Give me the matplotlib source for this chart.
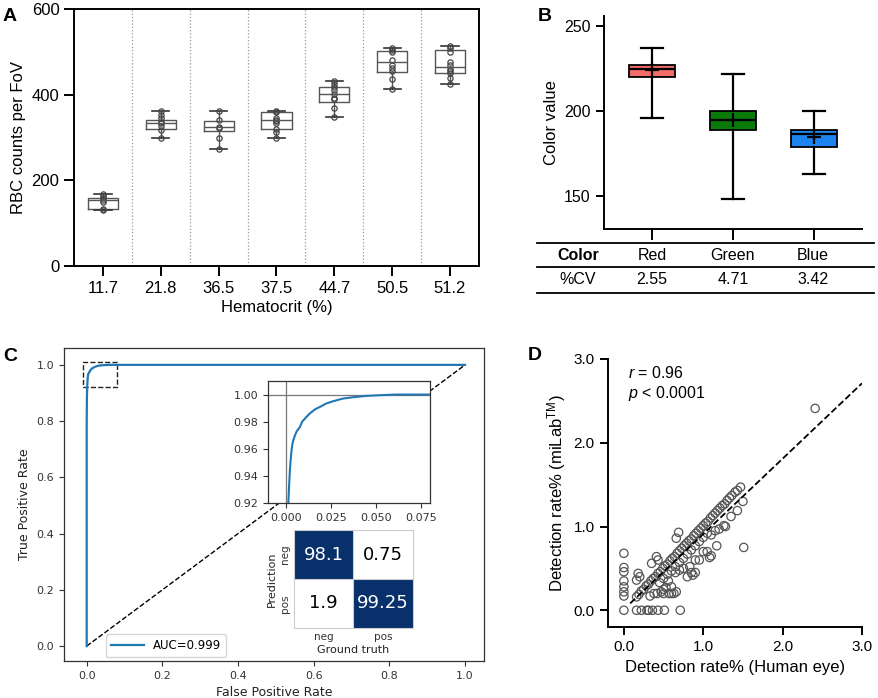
import numpy as np
import matplotlib
matplotlib.use('Agg')
import matplotlib.pyplot as plt
from matplotlib.lines import Line2D
from matplotlib.patches import Rectangle
from matplotlib.colors import ListedColormap

plt.rcParams['font.family'] = ['Liberation Sans', 'DejaVu Sans']
plt.rcParams['mathtext.fontset'] = 'custom'
plt.rcParams['mathtext.rm'] = 'Liberation Sans'
plt.rcParams['mathtext.it'] = 'Liberation Sans:italic'

W, H = 879, 698

# ---- panel A data (RBC counts per FoV) ----
hct_labels = ['11.7', '21.8', '36.5', '37.5', '44.7', '50.5', '51.2']
a_lo = [130, 298, 272, 300, 348, 413, 425]
a_q1 = [134, 319, 315, 319, 384, 452, 450]
a_med = [155, 335, 325, 341, 401, 476, 465]
a_q3 = [159, 342, 339, 360, 419, 502, 505]
a_hi = [168, 362, 362, 361, 432, 508, 514]
a_points = [
    [130, 134, 150, 155, 158, 163, 168],
    [298, 318, 328, 335, 337, 345, 352, 362],
    [272, 300, 323, 325, 342, 362],
    [300, 312, 320, 335, 338, 342, 345, 360, 361],
    [348, 368, 390, 392, 402, 410, 418, 426, 432],
    [413, 437, 456, 463, 470, 482, 500, 505, 508],
    [425, 440, 450, 455, 460, 470, 476, 500, 508, 514],
]

# ---- panel B data (color value) ----
b_names = ['Red', 'Green', 'Blue']
b_lo = [196, 148, 163]
b_q1 = [220, 189, 179]
b_med = [225, 195, 186.5]
b_q3 = [227, 200, 189]
b_hi = [237, 222, 200]
b_mean = [224, 195, 185]
b_cv = ['2.55', '4.71', '3.42']
b_colors = ['#F26B6B', '#0B7A0B', '#1C84EE']

# ---- panel C data (ROC) ----
fpr = [0, 0, 0.0005, 0.0013, 0.0018, 0.0022, 0.0026, 0.003, 0.0035, 0.004,
       0.005, 0.006, 0.0077, 0.009, 0.011, 0.0132, 0.016, 0.019, 0.0224,
       0.026, 0.0315, 0.037, 0.0445, 0.052, 0.061, 1.0]
tpr = [0, 0.80, 0.88, 0.92, 0.935, 0.945, 0.952, 0.958, 0.963, 0.966,
       0.970, 0.973, 0.976, 0.980, 0.983, 0.986, 0.989, 0.991, 0.9934,
       0.995, 0.997, 0.998, 0.999, 0.9995, 1.0, 1.0]
conf = np.array([[98.1, 0.75], [1.9, 99.25]])
conf_text = [['98.1', '0.75'], ['1.9', '99.25']]

# ---- panel D data (detection rate) ----
d_x = [0, 0, 0, 0, 0, 0, 0, 0,
       0.16, 0.22, 0.29, 0.31, 0.36, 0.43, 0.51, 0.71,
       0.16, 0.19, 0.22, 0.25, 0.28, 0.31, 0.34, 0.37, 0.40, 0.43, 0.46, 0.49,
       0.52, 0.55, 0.58, 0.61, 0.64, 0.67, 0.70, 0.73, 0.76, 0.79, 0.82, 0.85,
       0.88, 0.91, 0.94, 0.97, 1.00, 1.03, 1.06, 1.09, 1.12, 1.15, 1.18, 1.21,
       1.24, 1.27, 1.30, 1.33, 1.36, 1.40, 1.43, 1.47,
       0.66, 0.69, 0.41, 0.43, 0.35, 0.18, 0.20, 0.16,
       0.45, 0.50, 0.55, 0.60, 0.65, 0.70, 0.75, 0.80, 0.85, 0.90, 0.95,
       1.00, 1.05, 1.10, 1.15, 1.20, 1.28, 1.35, 1.43, 1.50,
       0.33, 0.38, 0.42, 0.47, 0.50, 0.53, 0.57, 0.60, 0.63, 0.66, 0.50, 0.56,
       0.60, 0.65, 0.70, 0.75, 0.80, 0.85, 0.87, 0.90, 0.83, 0.90, 0.95, 1.00,
       1.05, 1.10, 1.08, 1.17, 1.26, 1.51, 2.41]
d_y = [0.68, 0.51, 0.46, 0.35, 0.28, 0.22, 0.17, 0.0,
       0.0, 0.0, 0.0, 0.0, 0.0, 0.0, 0.0, 0.0,
       0.16, 0.19, 0.23, 0.25, 0.29, 0.31, 0.35, 0.38, 0.40, 0.44, 0.46, 0.50,
       0.53, 0.55, 0.59, 0.62, 0.64, 0.68, 0.71, 0.74, 0.77, 0.80, 0.83, 0.85,
       0.89, 0.92, 0.95, 0.98, 1.01, 1.04, 1.06, 1.10, 1.13, 1.16, 1.19, 1.22,
       1.25, 1.27, 1.31, 1.34, 1.37, 1.41, 1.43, 1.47,
       0.86, 0.93, 0.64, 0.60, 0.56, 0.44, 0.40, 0.36,
       0.33, 0.38, 0.43, 0.47, 0.52, 0.57, 0.62, 0.67, 0.72, 0.77, 0.82,
       0.87, 0.92, 0.90, 0.95, 0.97, 1.00, 1.12, 1.19, 1.30,
       0.17, 0.20, 0.20, 0.22, 0.20, 0.27, 0.20, 0.20, 0.20, 0.22, 0.25, 0.35,
       0.28, 0.45, 0.48, 0.50, 0.40, 0.45, 0.42, 0.45, 0.52, 0.60, 0.60, 0.70,
       0.70, 0.65, 0.63, 0.77, 1.01, 0.75, 2.41]
fit_slope, fit_intercept = 0.9, 0.01
fit_range = [0.08, 3.0]


def fx(px):
    return px / W


def fy(py):
    return 1 - py / H


def pos(l, t, r, b):
    return [fx(l), fy(b), (r - l) / W, (b - t) / H]


fig = plt.figure(figsize=(W / 100, H / 100), dpi=100)

# ================= A =================
axA = fig.add_axes(pos(74, 9, 479, 266))
xa = np.arange(1, len(hct_labels) + 1)
statsA = [dict(whislo=a_lo[i], q1=a_q1[i], med=a_med[i], q3=a_q3[i], whishi=a_hi[i])
          for i in range(len(xa))]
axA.bxp(statsA, positions=xa, widths=0.52, showfliers=False, capwidths=0.3,
        boxprops=dict(color='#555555', lw=1.0),
        medianprops=dict(color='#555555', lw=1.0),
        whiskerprops=dict(color='#555555', lw=1.0),
        capprops=dict(color='#333333', lw=1.2))
for i, pts in enumerate(a_points):
    axA.plot([xa[i]] * len(pts), pts, 'o', ms=3.8, mfc='none', mec='#444444', mew=0.9)
for s in np.arange(1.5, len(xa), 1.0):
    axA.axvline(s, color='#999999', ls=':', lw=0.9)
axA.set_xlim(0.5, 7.5)
axA.set_ylim(0, 600)
axA.set_yticks([0, 200, 400, 600])
axA.set_xticks(xa)
axA.set_xticklabels(hct_labels)
axA.tick_params(labelsize=12, width=1.4, length=7, direction='out')
for sp in axA.spines.values():
    sp.set_linewidth(1.4)
axA.set_ylabel('RBC counts per FoV', fontsize=12)
axA.set_xlabel('Hematocrit (%)', fontsize=12, labelpad=3)

# ================= B =================
axB = fig.add_axes(pos(604, 16, 862, 229))
xb = np.arange(1, 4)
statsB = [dict(whislo=b_lo[i], q1=b_q1[i], med=b_med[i], q3=b_q3[i], whishi=b_hi[i],
               mean=b_mean[i]) for i in range(3)]
bp = axB.bxp(statsB, positions=xb, widths=0.57, showfliers=False, showmeans=True,
             patch_artist=True, capwidths=0.27,
             boxprops=dict(edgecolor='black', lw=1.3),
             medianprops=dict(color='black', lw=1.6),
             whiskerprops=dict(color='black', lw=1.6),
             capprops=dict(color='black', lw=1.6),
             meanprops=dict(marker='+', markersize=10, markeredgecolor='black',
                            markeredgewidth=1.6))
for patch, c in zip(bp['boxes'], b_colors):
    patch.set_facecolor(c)
axB.set_xlim(0.4, 3.6)
axB.set_ylim(130.6, 255.9)
axB.set_yticks([150, 200, 250])
axB.set_xticks(xb)
axB.set_xticklabels([])
axB.spines['top'].set_visible(False)
axB.spines['right'].set_visible(False)
for sp in axB.spines.values():
    sp.set_linewidth(1.4)
axB.tick_params(axis='y', labelsize=11.5, width=1.4, length=6)
axB.tick_params(axis='x', width=1.4, length=8)
axB.set_ylabel('Color value', fontsize=12)

for ly in [243, 267, 293]:
    fig.add_artist(Line2D([fx(537), fx(874)], [fy(ly), fy(ly)], color='black', lw=1.3))
col_x = [652, 733, 813]
fig.text(fx(578), fy(255), 'Color', ha='center', va='center', fontsize=11.5, weight='bold')
fig.text(fx(578), fy(280), '%CV', ha='center', va='center', fontsize=11.5)
for i in range(3):
    fig.text(fx(col_x[i]), fy(255), b_names[i], ha='center', va='center', fontsize=11.5)
    fig.text(fx(col_x[i]), fy(280), b_cv[i], ha='center', va='center', fontsize=11.5)

# ================= C =================
dj = 'DejaVu Sans'
roc_c = '#1f77b4'
axC = fig.add_axes(pos(64, 348, 484, 661))
axC.plot([0, 1], [0, 1], 'k--', lw=1.0)
axC.plot(fpr, tpr, color=roc_c, lw=1.6, label='AUC=0.999')
axC.add_patch(Rectangle((-0.01, 0.92), 0.09, 0.09, fill=False, ls='--', lw=1.0, ec='#222222'))
axC.set_xlim(-0.06, 1.05)
axC.set_ylim(-0.053, 1.06)
ct = [0.0, 0.2, 0.4, 0.6, 0.8, 1.0]
axC.set_xticks(ct)
axC.set_xticklabels(['%.1f' % v for v in ct], fontfamily=dj, fontsize=8, color='#333333')
axC.set_yticks(ct)
axC.set_yticklabels(['%.1f' % v for v in ct], fontfamily=dj, fontsize=8, color='#333333')
axC.tick_params(length=3.5, width=0.8, color='#333333')
for sp in axC.spines.values():
    sp.set_color('#333333')
    sp.set_linewidth(0.9)
axC.set_xlabel('False Positive Rate', fontfamily=dj, fontsize=9, color='#222222')
axC.set_ylabel('True Positive Rate', fontfamily=dj, fontsize=9, color='#222222')
leg = axC.legend(loc='lower left', bbox_to_anchor=(0.1, 0.013), borderaxespad=0,
                 prop={'family': dj, 'size': 8.5}, handlelength=2.8, fancybox=True)
leg.get_frame().set_edgecolor('#cccccc')

axI = fig.add_axes(pos(268, 381, 430, 503))
axI.axhline(1.0, color='#777777', lw=0.9)
axI.axvline(0.0, color='#777777', lw=0.9)
axI.plot(fpr, tpr, color=roc_c, lw=1.5)
axI.set_xlim(-0.01, 0.08)
axI.set_ylim(0.92, 1.01)
it_x = [0.0, 0.025, 0.05, 0.075]
it_y = [0.92, 0.94, 0.96, 0.98, 1.00]
axI.set_xticks(it_x)
axI.set_xticklabels(['%.3f' % v for v in it_x], fontfamily=dj, fontsize=8, color='#333333')
axI.set_yticks(it_y)
axI.set_yticklabels(['%.2f' % v for v in it_y], fontfamily=dj, fontsize=8, color='#333333')
axI.tick_params(length=3.5, width=0.8, color='#333333')
for sp in axI.spines.values():
    sp.set_color('#333333')
    sp.set_linewidth(0.9)

axM = fig.add_axes(pos(294, 530, 413, 628))
cm_map = ListedColormap(['#ffffff', '#08306b'])
axM.imshow(conf > 50, cmap=cm_map, vmin=0, vmax=1, aspect='auto')
for i in range(2):
    for j in range(2):
        tc = 'white' if conf[i, j] > 50 else 'black'
        axM.text(j, i, conf_text[i][j], ha='center', va='center', color=tc,
                 fontsize=13, fontfamily=dj)
axM.axhline(0.5, color='#cccccc', lw=0.8)
axM.axvline(0.5, color='#cccccc', lw=0.8)
axM.set_xticks([0, 1])
axM.set_xticklabels(['neg', 'pos'], fontfamily=dj, fontsize=7.5, color='#333333')
axM.set_yticks([0, 1])
axM.set_yticklabels(['neg', 'pos'], fontfamily=dj, fontsize=7.5, color='#333333',
                    rotation=90, va='center')
axM.tick_params(length=0, pad=3)
for sp in axM.spines.values():
    sp.set_color('#cccccc')
    sp.set_linewidth(0.8)
axM.set_xlabel('Ground truth', fontfamily=dj, fontsize=8, color='#222222', labelpad=2)
axM.set_ylabel('Prediction', fontfamily=dj, fontsize=8, color='#222222', labelpad=2)

# ================= D =================
axD = fig.add_axes(pos(608, 359, 862, 627))
axD.scatter(d_x, d_y, s=36, facecolors='none', edgecolors='#555555', linewidths=0.9)
fxl = np.array(fit_range)
axD.plot(fxl, fit_slope * fxl + fit_intercept, 'k--', lw=1.3)
axD.set_xlim(-0.2, 3.0)
axD.set_ylim(-0.2, 3.0)
dt = [0.0, 1.0, 2.0, 3.0]
axD.set_xticks(dt)
axD.set_xticklabels(['%.1f' % v for v in dt])
axD.set_yticks(dt)
axD.set_yticklabels(['%.1f' % v for v in dt])
axD.spines['top'].set_visible(False)
axD.spines['right'].set_visible(False)
for sp in axD.spines.values():
    sp.set_linewidth(1.4)
axD.tick_params(labelsize=11, width=1.4, length=6)
axD.set_xlabel('Detection rate% (Human eye)', fontsize=12)
axD.set_ylabel(r'Detection rate% (miLab$^{\mathrm{TM}}$)', fontsize=12)
axD.text(0.055, 2.83, r'$\it{r}$ = 0.96', fontsize=11.5, va='center')
axD.text(0.055, 2.59, r'$\it{p}$ < 0.0001', fontsize=11.5, va='center')

# panel letters
for lt, px, py in [('A', 3, 21), ('B', 538, 21), ('C', 3, 361), ('D', 528, 360)]:
    fig.text(fx(px), fy(py), lt, fontsize=14, weight='bold', va='baseline', ha='left')

fig.savefig('out.png', dpi=100)
